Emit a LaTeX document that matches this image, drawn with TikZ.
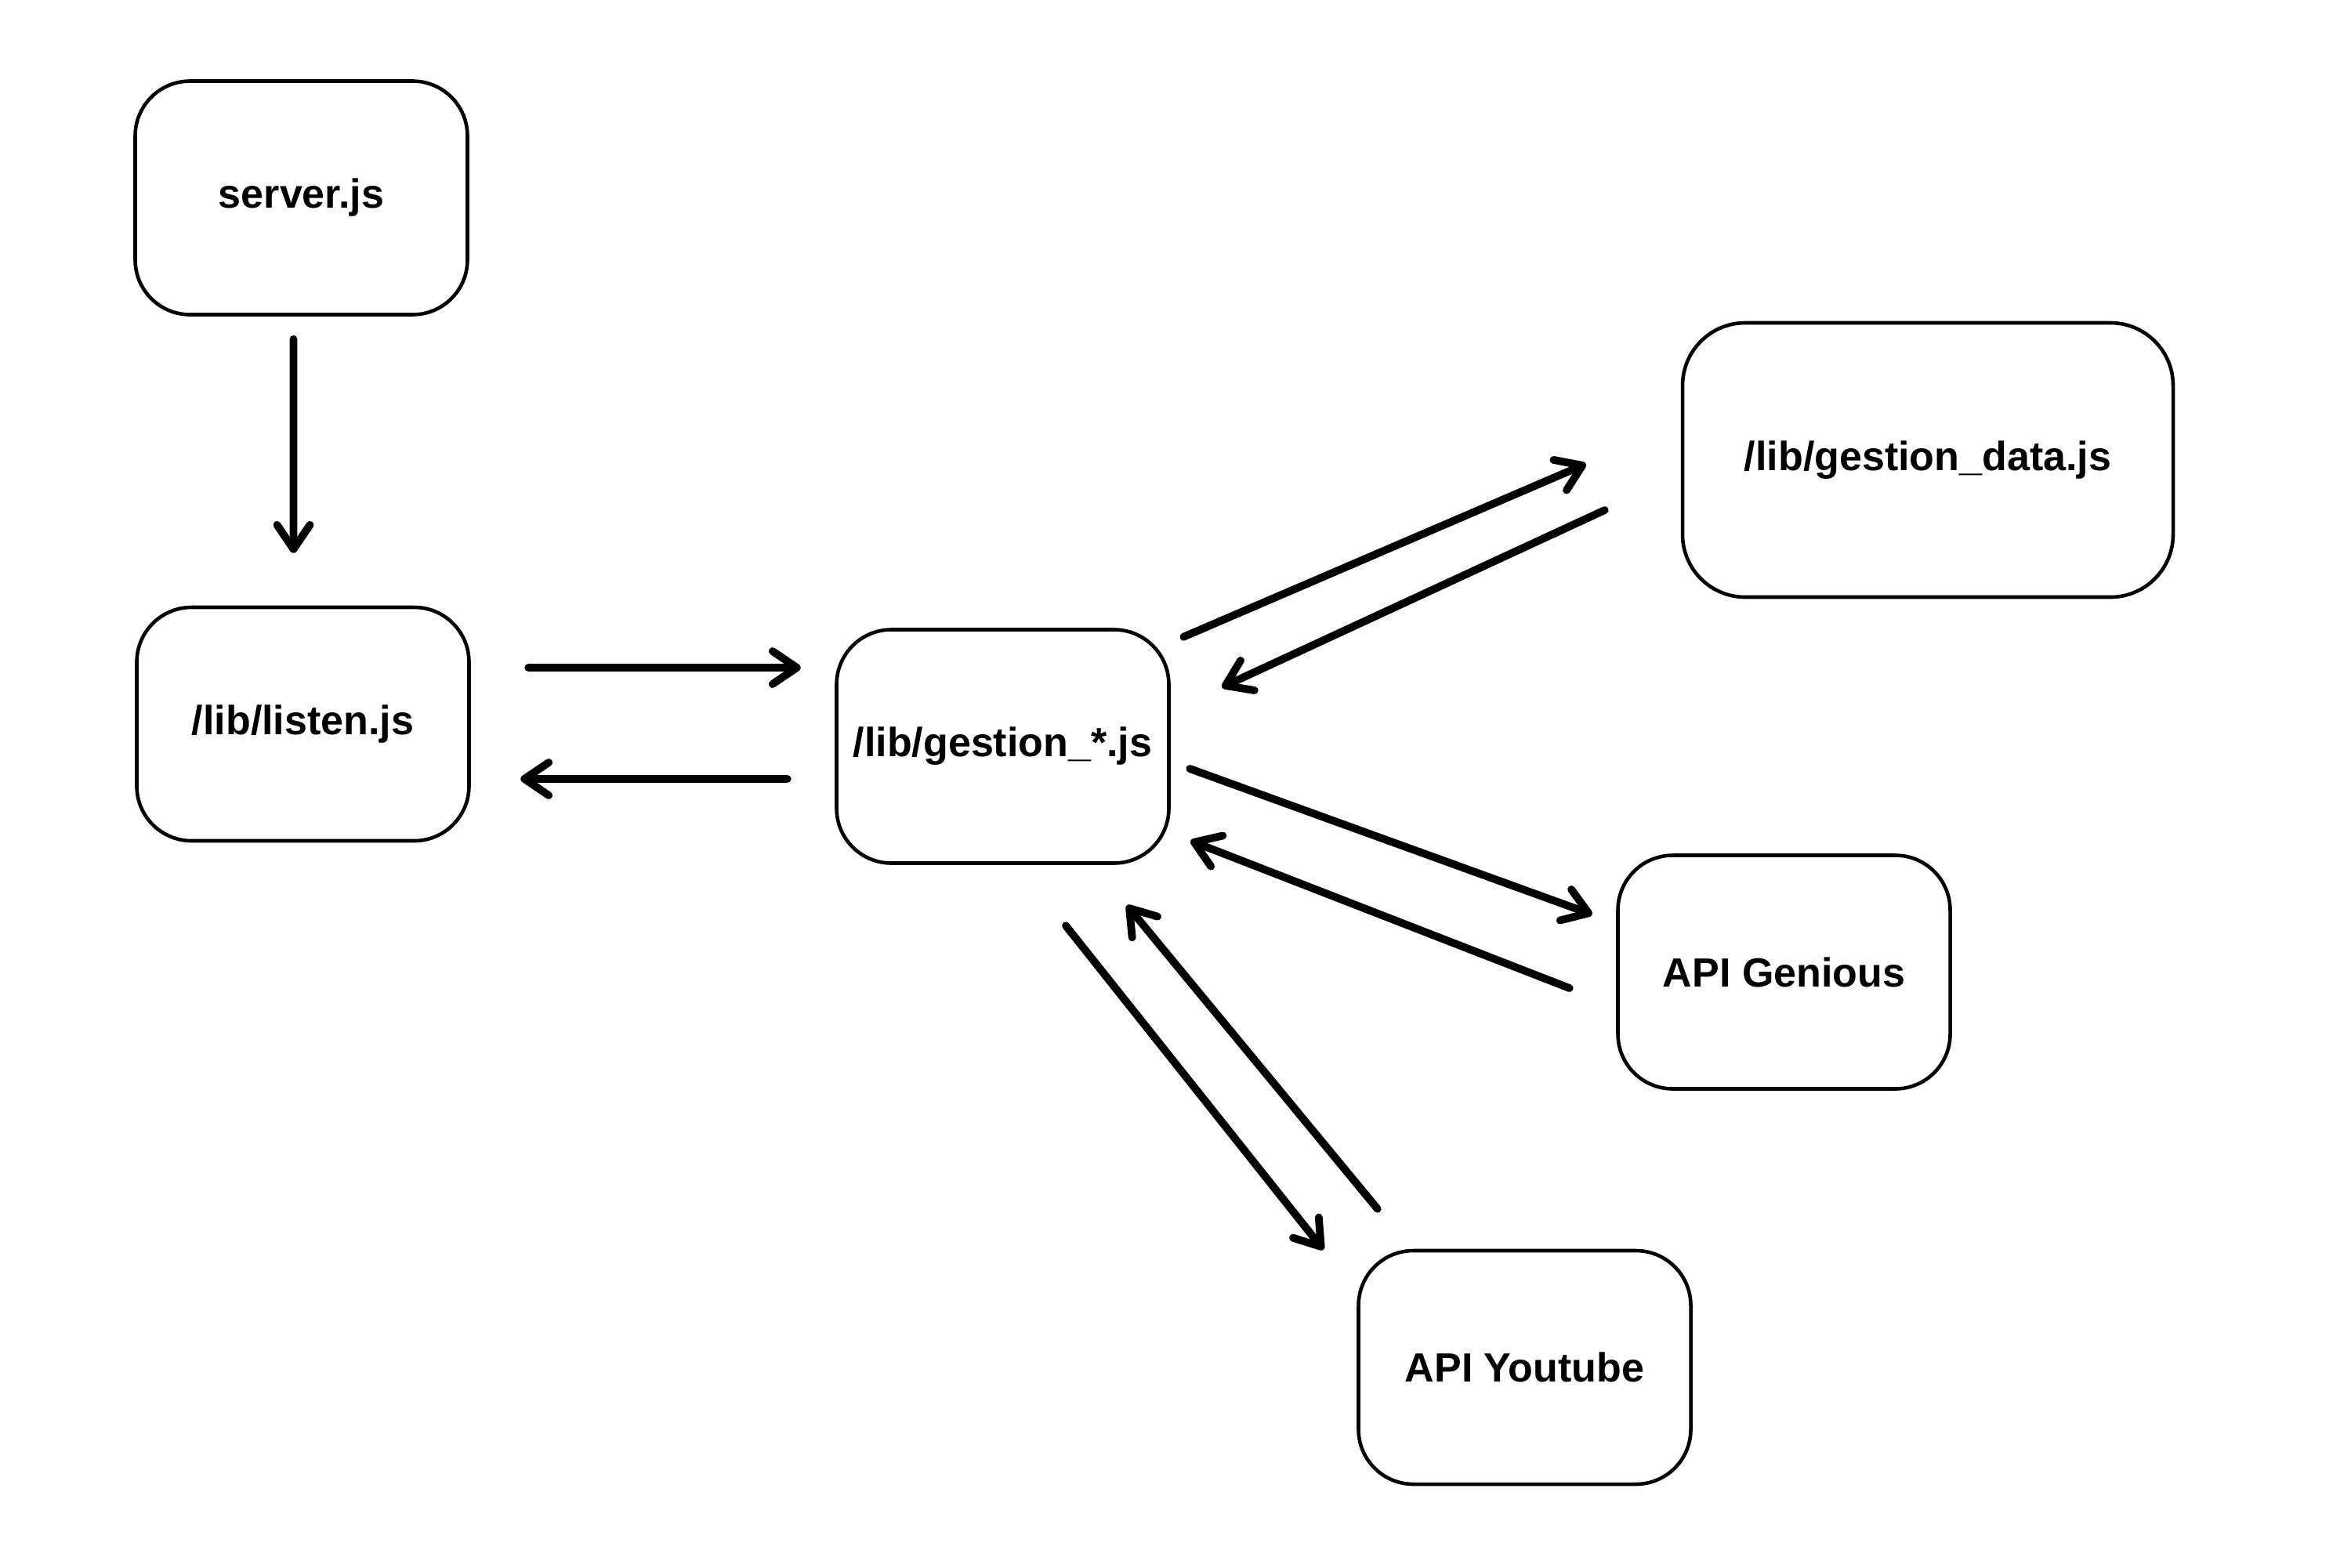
\documentclass[tikz,border=0pt]{standalone}
\usepackage{fontspec}
\setmainfont{Liberation Sans}
\usetikzlibrary{
    arrows.meta,
    calc
}

\tikzset{
    jsbox/.style={draw, line width=1.3pt, rounded corners=0.7cm,
        minimum width=4.24cm, minimum height=2.98cm, inner sep=0pt,
        font=\fontsize{14.8}{17}\selectfont\bfseries},
    flow/.style={->, line width=2.8pt, line cap=round}
}

\begin{document}
\begin{tikzpicture}[>={Straight Barb[length=3.1mm,width=4.2mm,round]}]
    \path[fill=white] (0,0) rectangle (30,-20);
    \useasboundingbox (0,0) rectangle (30,-20);

    % files and services
    \node[jsbox] (server)  at (3.845,-2.525)  {server.js};
    \node[jsbox] (listen)  at (3.865,-9.24)   {/lib/listen.js};
    \node[jsbox] (gestion) at (12.795,-9.525) {/lib/gestion\_*.js};
    \node[jsbox, minimum width=6.26cm, minimum height=3.50cm, rounded corners=0.8cm]
                 (data)    at (24.60,-5.87)   {/lib/gestion\_data.js};
    \node[jsbox] (genious) at (22.765,-12.405) {API Genious};
    \node[jsbox] (youtube) at (19.455,-17.45)  {API Youtube};

    % calls
    \draw[flow] ($(server.south)+(-0.1,-0.29)$)       -- ($(listen.north)+(-0.12,0.67)$);
    \draw[flow] ($(listen.east)+(0.735,0.72)$)        -- ($(gestion.west)+(-0.435,1.005)$);
    \draw[flow] ($(gestion.west)+(-0.605,-0.415)$)    -- ($(listen.east)+(0.635,-0.70)$);
    \draw[flow] ($(gestion.north east)+(0.165,-0.115)$) -- ($(data.west)+(-1.21,-0.05)$);
    \draw[flow] ($(data.west)+(-0.97,-0.64)$)         -- ($(gestion.east)+(0.655,0.755)$);
    \draw[flow] ($(gestion.east)+(0.245,-0.285)$)     -- ($(genious.west)+(-0.305,0.735)$);
    \draw[flow] ($(genious.west)+(-0.595,-0.205)$)    -- ($(gestion.east)+(0.255,-1.205)$);
    \draw[flow] ($(gestion.south)+(0.805,-0.775)$)    -- ($(youtube.north west)+(-0.425,-0.01)$);
    \draw[flow] ($(youtube.north west)+(0.265,0.51)$) -- ($(gestion.south)+(1.585,-0.515)$);
\end{tikzpicture}
\end{document}
